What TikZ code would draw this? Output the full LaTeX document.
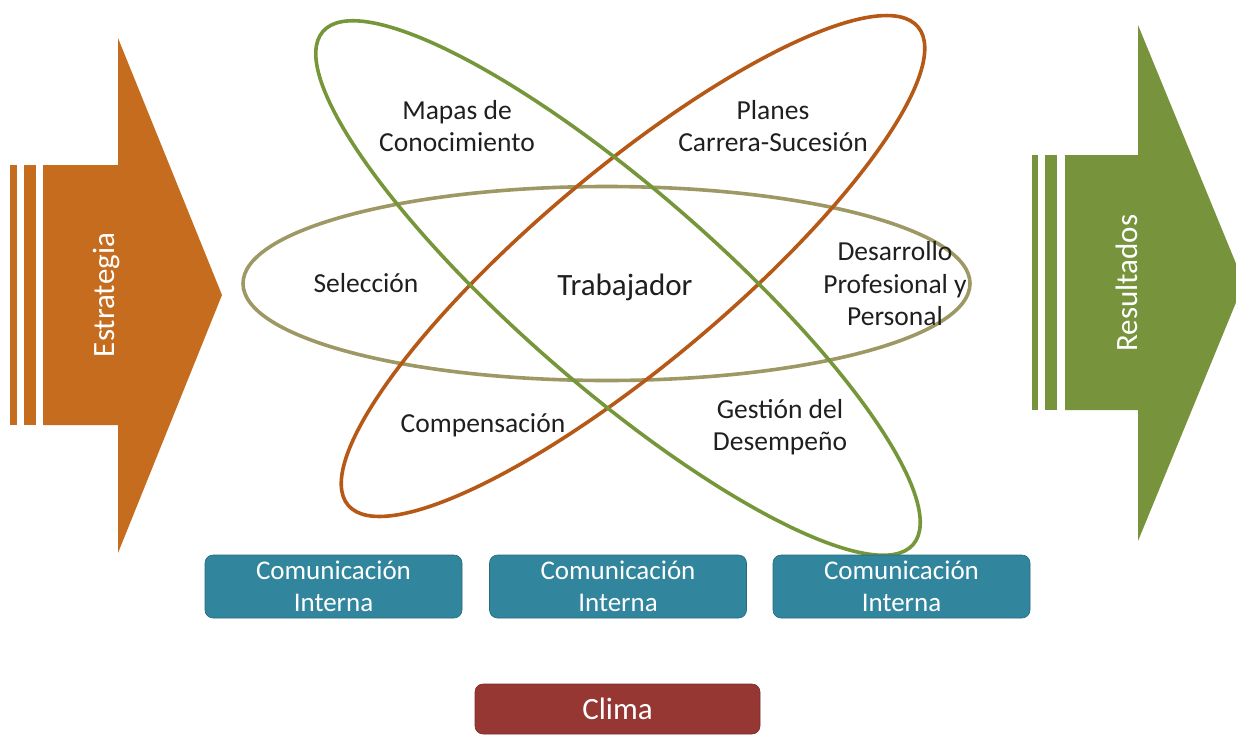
\documentclass[tikz,border=0pt]{standalone}
\usepackage{fontspec}
\setmainfont{Carlito}
\definecolor{arrOrange}{RGB}{198,108,30}
\definecolor{arrGreen}{RGB}{119,147,60}
\definecolor{ellGreen}{RGB}{118,150,58}
\definecolor{ellOrange}{RGB}{182,88,22}
\definecolor{ellOlive}{RGB}{158,152,100}
\definecolor{boxTeal}{RGB}{49,133,156}
\definecolor{boxRed}{RGB}{150,55,52}
\begin{document}
\begin{tikzpicture}[x=1pt,y=-1pt,
  lbl/.style={font=\fontsize{27.5}{32.5}\selectfont, align=center, text=black!88, inner sep=0pt},
  big/.style={font=\fontsize{31}{36}\selectfont, text=black!88, inner sep=0pt},
  arrtxt/.style={font=\fontsize{31}{36}\selectfont, text=white, inner sep=0pt, rotate=90},
  ring/.style={line width=3.6pt},
  combox/.style={draw=boxTeal!80!black, line width=0.6pt, fill=boxTeal, rounded corners=8pt,
    minimum width=257pt, minimum height=63pt, inner sep=0pt},
  boxtxt/.style={font=\fontsize{27}{32}\selectfont, text=white, align=center, inner sep=0pt}]
\useasboundingbox (0,0) rectangle (1236,734);
\begin{scope}
\clip (0,0) rectangle (1236,734);
% left arrow
\fill[arrOrange] (10,165) rectangle (17,425);
\fill[arrOrange] (24,165) rectangle (36,425);
\fill[arrOrange] (43,165) -- (118,165) -- (118,38) -- (222,295) -- (118,553) -- (118,425) -- (43,425) -- cycle;
\node[arrtxt] (estr) at (106,295) {Estrategia};
% right arrow
\fill[arrGreen] (1032,155) rectangle (1038,410);
\fill[arrGreen] (1045,155) rectangle (1057,410);
\fill[arrGreen] (1065,155) -- (1138,155) -- (1138,25) -- (1244,283) -- (1138,541) -- (1138,410) -- (1065,410) -- cycle;
\node[arrtxt] (resu) at (1127,283) {Resultados};
% ellipses
\draw[ring, ellOlive] (606.5,283.5) ellipse (363.5 and 97);
\draw[ring, ellOrange, rotate around={40:(633,266)}] (633,266) ellipse (372 and 97);
\draw[ring, ellGreen, rotate around={-41:(618,288)}] (618,288) ellipse (391 and 99);
% labels
\node[lbl] (mapas) at (457,126) {Mapas de\\Conocimiento};
\node[lbl] (planes) at (773,126) {Planes\\Carrera-Sucesión};
\node[lbl] (sel) at (366,283) {Selección};
\node[big] (trab) at (625,287) {Trabajador};
\node[lbl] (des) at (895,284) {Desarrollo\\Profesional y\\Personal};
\node[lbl] (comp) at (483,425) {Compensación};
\node[lbl] (gest) at (780,427) {Gestión del\\Desempeño};
% boxes
\node[combox] (c1) at (333.5,586.5) {};
\node[combox] (c2) at (618,586.5) {};
\node[combox] (c3) at (901.5,586.5) {};
\node[boxtxt] at (c1) {Comunicación\\Interna};
\node[boxtxt] at (c2) {Comunicación\\Interna};
\node[boxtxt] at (c3) {Comunicación\\Interna};
\node[draw=boxRed!80!black, line width=0.6pt, fill=boxRed, rounded corners=8pt,
  minimum width=285pt, minimum height=50pt, inner sep=0pt] (clima) at (617.5,709) {};
\node[font=\fontsize{31}{36}\selectfont, text=white, inner sep=0pt] at (clima) {Clima};
\end{scope}
\end{tikzpicture}
\end{document}
